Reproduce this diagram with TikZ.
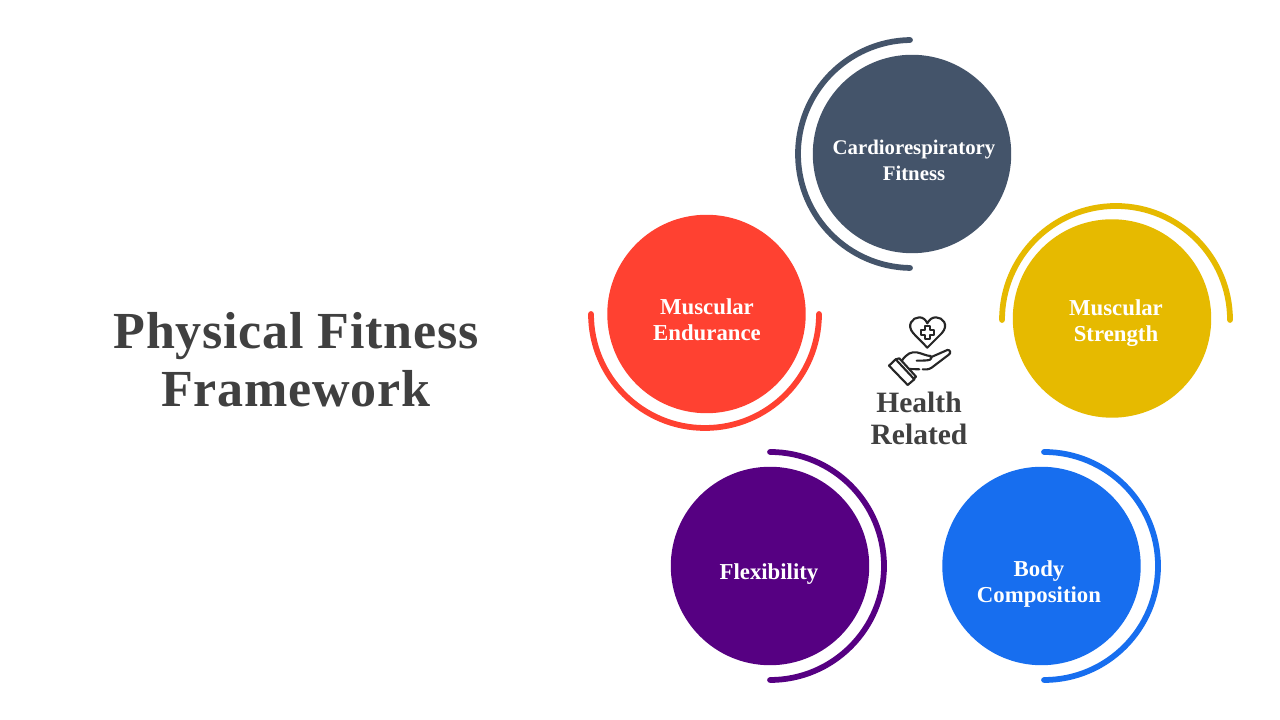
\documentclass[tikz,border=0pt]{standalone}
\usepackage{fontspec}
\setmainfont{Liberation Serif}
\definecolor{slateblue}{HTML}{44546A}
\definecolor{redorange}{HTML}{FF4131}
\definecolor{mustard}{HTML}{E6BA00}
\definecolor{deeppurple}{HTML}{560082}
\definecolor{brightblue}{HTML}{176EEF}
\definecolor{darktext}{HTML}{404040}
\tikzset{
    ball/.style={circle,minimum size=4.96cm,inner sep=0pt},
    ring/.style={line width=4.1pt,line cap=round},
    ballname/.style={text=white,align=center,font=\fontsize{16.2}{18.4}\selectfont\bfseries},
    iconline/.style={line width=1.5pt,line cap=round,line join=round,black!85}
}
\begin{document}
\begin{tikzpicture}[x=0.025cm,y=0.025cm]
    \useasboundingbox[fill=white] (0,0) rectangle (1280,720);
    \node[text=darktext,align=center,font=\fontsize{37}{41}\selectfont\bfseries\addfontfeature{LetterSpace=1.5}] (title) at (296,360) {Physical Fitness\\Framework};
    % circles
    \node[ball,fill=slateblue] (cardio) at (912,566) {};
    \node[ball,fill=redorange] (endurance) at (706.5,406) {};
    \node[ball,fill=mustard] (strength) at (1112,401.5) {};
    \node[ball,fill=deeppurple] (flexibility) at (770,154) {};
    \node[ball,fill=brightblue] (body) at (1041.5,154) {};
    % rings
    \draw[ring,slateblue] (cardio.center) ++(91:114) arc (91:269:114);
    \draw[ring,redorange] (705,406) ++(180:114) arc (180:360:114);
    \draw[ring,mustard] (1116,400) ++(180:114) arc (180:0:114);
    \draw[ring,deeppurple] (flexibility.center) ++(90:114) arc (90:-90:114);
    \draw[ring,brightblue] (1044,154) ++(90:114) arc (90:-90:114);
    % names
    \node[ballname,font=\fontsize{14.8}{18.4}\selectfont\bfseries] (cardioname) at (914,560) {Cardiorespiratory\\Fitness};
    \node[ballname] (endurancename) at (707,400) {Muscular\\Endurance};
    \node[ballname] (strengthname) at (1116,397) {Muscular\\Strength};
    \node[ballname] (flexibilityname) at (769,146) {Flexibility};
    \node[ballname] (bodyname) at (1039,136) {Body\\Composition};
    % middle
    \node[text=darktext,align=center,font=\fontsize{21}{22.7}\selectfont\bfseries] (health) at (919,302) {Health\\Related};
    \begin{scope}[shift={(860,420)},x=0.00833cm,y=-0.00833cm]
        \draw[iconline] (202,143) -- (160,100) .. controls (138,75) and (158,52) .. (178,52) .. controls (190,52) and (197,60) .. (202,70) .. controls (207,60) and (215,52) .. (228,52) .. controls (248,52) and (268,75) .. (245,100) -- cycle;
        \draw[iconline] (194,78) -- (210,78) -- (210,90) -- (222,90) -- (222,105) -- (210,105) -- (210,117) -- (194,117) -- (194,105) -- (182,105) -- (182,90) -- (194,90) -- cycle;
        \draw[iconline] (87,197) -- (107,178) -- (163,238) -- (143,255) -- cycle;
        \draw[iconline] (107,178) -- (118,175) -- (168,230) -- (160,238);
        \draw[iconline] (125,183) .. controls (140,160) and (155,155) .. (170,157) .. controls (185,160) and (200,168) .. (212,168) .. controls (218,180) and (212,182) .. (170,182);
        \draw[iconline] (212,172) -- (262,150) .. controls (270,148) and (275,160) .. (265,165) -- (215,203) .. controls (205,210) and (195,208) .. (188,208);
        \draw[iconline] (148,207) -- (178,208);
    \end{scope}
\end{tikzpicture}
\end{document}
